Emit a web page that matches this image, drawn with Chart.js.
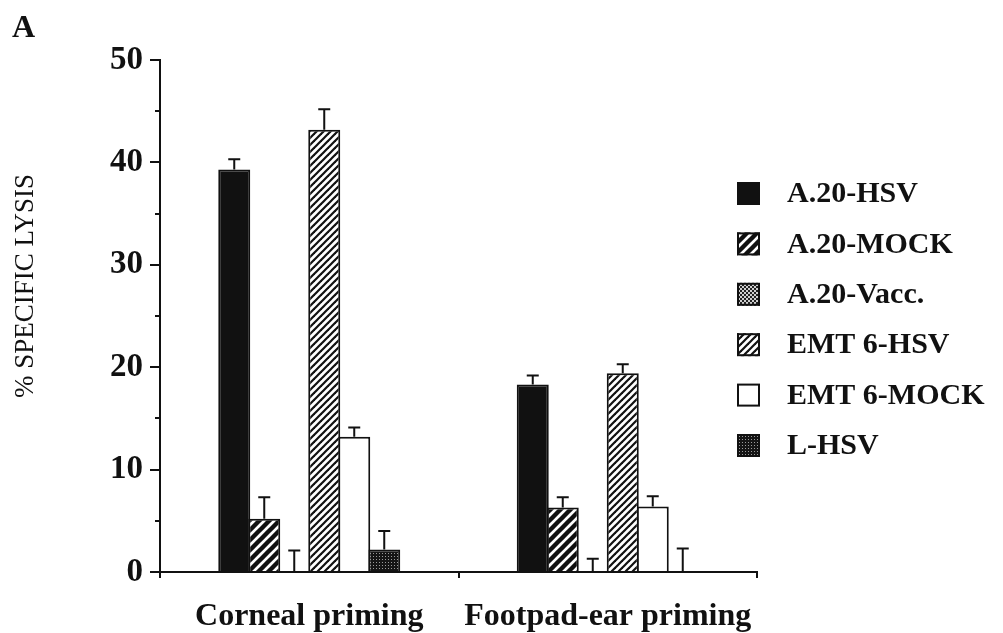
<!DOCTYPE html>
<html>
<head>
<meta charset="utf-8">
<script src="https://cdn.jsdelivr.net/npm/chart.js@4.4.0/dist/chart.umd.min.js"></script>
<style>
  html, body { margin: 0; padding: 0; background: #fff; }
  #wrap { width: 1003px; height: 633px; position: relative; }
</style>
</head>
<body>
<div id="wrap"><canvas id="c" width="1003" height="633"></canvas></div>
<script>
// Cytotoxic response: % specific lysis per target cell line, two priming routes
const categories = ['Corneal priming', 'Footpad-ear priming'];
const seriesNames = ['A.20-HSV', 'A.20-MOCK', 'A.20-Vacc.', 'EMT 6-HSV', 'EMT 6-MOCK', 'L-HSV'];

// Means (corneal, footpad-ear)
const a20Hsv    = [39.3, 18.3];
const a20Mock   = [5.2, 6.3];
const a20Vacc   = [0, 0];
const emt6Hsv   = [43.2, 19.4];
const emt6Mock  = [13.2, 6.4];
const lHsv      = [2.2, 0];

// Upper error (SE) for each mean
const a20HsvErr   = [1.0, 0.9];
const a20MockErr  = [2.1, 1.0];
const a20VaccErr  = [2.1, 1.3];
const emt6HsvErr  = [2.0, 0.9];
const emt6MockErr = [0.9, 1.0];
const lHsvErr     = [1.8, 2.3];

const yTickValues = [0, 10, 20, 30, 40, 50];
const yMinorTicks = [5, 15, 25, 35, 45];

const SERIF = '"Liberation Serif", "Times New Roman", Times, serif';

// ---- fill patterns ----
function makeTile(size, draw) {
  const c = document.createElement('canvas');
  c.width = size; c.height = size;
  const g = c.getContext('2d');
  draw(g, size);
  return document.getElementById('c').getContext('2d').createPattern(c, 'repeat');
}
function stripes(size, lw, bg, fg) {
  return makeTile(size, (g, s) => {
    g.fillStyle = bg; g.fillRect(0, 0, s, s);
    g.strokeStyle = fg; g.lineWidth = lw; g.lineCap = 'square';
    for (const k of [-s, 0, s]) {
      g.beginPath(); g.moveTo(k, s); g.lineTo(k + s, 0); g.stroke();
    }
  });
}
const solidBlack = '#111';
const thickHatch = stripes(10, 4.4, '#fff', '#111');
const checker = makeTile(4, (g) => {
  g.fillStyle = '#222'; g.fillRect(0, 0, 4, 4);
  g.fillStyle = '#cfcfcf'; g.fillRect(0, 0, 2, 2); g.fillRect(2, 2, 2, 2);
});
const thinHatch = stripes(7, 2.2, '#fff', '#111');
const stipple = makeTile(3, (g) => {
  g.fillStyle = '#151515'; g.fillRect(0, 0, 3, 3);
  g.fillStyle = '#9a9a9a'; g.fillRect(1, 1, 1, 1);
});

const seriesValues = [a20Hsv, a20Mock, a20Vacc, emt6Hsv, emt6Mock, lHsv];
const seriesErrors = [a20HsvErr, a20MockErr, a20VaccErr, emt6HsvErr, emt6MockErr, lHsvErr];
const seriesFills  = [solidBlack, thickHatch, checker, thinHatch, '#fff', stipple];

// neighbouring bars overlap by one border width so they share a single edge
const datasets = seriesNames.map((name, i) => ({
  label: name,
  data: seriesValues[i],
  errors: seriesErrors[i],
  backgroundColor: seriesFills[i],
  borderColor: '#111',
  borderWidth: 2,
  borderSkipped: 'bottom',
  barPercentage: 1.067,
  categoryPercentage: 0.603
}));

// ---- plugins ----
const errorBars = {
  id: 'errorBars',
  afterDatasetsDraw(chart) {
    const { ctx } = chart;
    const y = chart.scales.y;
    ctx.save();
    ctx.strokeStyle = '#111';
    ctx.lineWidth = 2;
    chart.data.datasets.forEach((ds, i) => {
      const meta = chart.getDatasetMeta(i);
      meta.data.forEach((bar, j) => {
        const v = ds.data[j];
        const e = ds.errors[j];
        const y0 = y.getPixelForValue(v);
        const y1 = y.getPixelForValue(v + e);
        ctx.beginPath();
        ctx.moveTo(bar.x, y0); ctx.lineTo(bar.x, y1);
        ctx.moveTo(bar.x - 6, y1); ctx.lineTo(bar.x + 6, y1);
        ctx.stroke();
      });
    });
    ctx.restore();
  }
};

const decorations = {
  id: 'decorations',
  afterDraw(chart) {
    const { ctx } = chart;
    const y = chart.scales.y;
    ctx.save();
    // minor ticks on the value axis
    ctx.strokeStyle = '#111';
    ctx.lineWidth = 2;
    const ax = y.right;
    yMinorTicks.forEach(v => {
      const py = Math.round(y.getPixelForValue(v));
      ctx.beginPath(); ctx.moveTo(ax - 5, py); ctx.lineTo(ax, py); ctx.stroke();
    });

    // value-axis title
    ctx.fillStyle = '#111';
    ctx.font = '27px ' + SERIF;
    ctx.textAlign = 'center';
    ctx.textBaseline = 'middle';
    ctx.save();
    ctx.translate(26, 286);
    ctx.rotate(-Math.PI / 2);
    ctx.fillText('% SPECIFIC LYSIS', 0, 0);
    ctx.restore();

    // panel letter
    ctx.font = 'bold 32px ' + SERIF;
    ctx.textAlign = 'left';
    ctx.textBaseline = 'alphabetic';
    ctx.fillText('A', 12, 37);

    // legend
    const rowTop = 193.5, rowStep = 50.4;
    chart.data.datasets.forEach((ds, i) => {
      const cy = rowTop + i * rowStep;
      ctx.fillStyle = ds.backgroundColor;
      ctx.fillRect(737, cy - 11.5, 23, 23);
      ctx.strokeStyle = '#111';
      ctx.lineWidth = 2;
      ctx.strokeRect(738, cy - 10.5, 21, 21);
      ctx.fillStyle = '#111';
      ctx.font = 'bold 30px ' + SERIF;
      ctx.textBaseline = 'middle';
      ctx.fillText(ds.label, 787, cy + 1);
    });
    ctx.restore();
  }
};

new Chart(document.getElementById('c'), {
  type: 'bar',
  data: { labels: categories, datasets },
  plugins: [errorBars, decorations],
  options: {
    responsive: false,
    animation: false,
    devicePixelRatio: 1,
    layout: { padding: { left: 0, right: 246, top: 60, bottom: 0 } },
    plugins: { legend: { display: false }, tooltip: { enabled: false } },
    scales: {
      x: {
        type: 'category',
        offset: true,
        afterFit(scale) { scale.height = 61; },
        border: { display: true, color: '#111', width: 2 },
        grid: { display: true, drawOnChartArea: false, offset: true, tickLength: 6, color: '#111', lineWidth: 2 },
        ticks: { color: '#111', padding: 20, font: { family: SERIF, size: 32, weight: 'bold' } }
      },
      y: {
        min: 0, max: 50,
        afterFit(scale) { scale.width = 160; },
        afterBuildTicks(scale) { scale.ticks = yTickValues.map(v => ({ value: v })); },
        border: { display: true, color: '#111', width: 2 },
        grid: { display: true, drawOnChartArea: false, tickLength: 10, color: '#111', lineWidth: 2 },
        ticks: { color: '#111', padding: 7, font: { family: SERIF, size: 33, weight: 'bold' } }
      }
    }
  }
});
</script>
</body>
</html>
